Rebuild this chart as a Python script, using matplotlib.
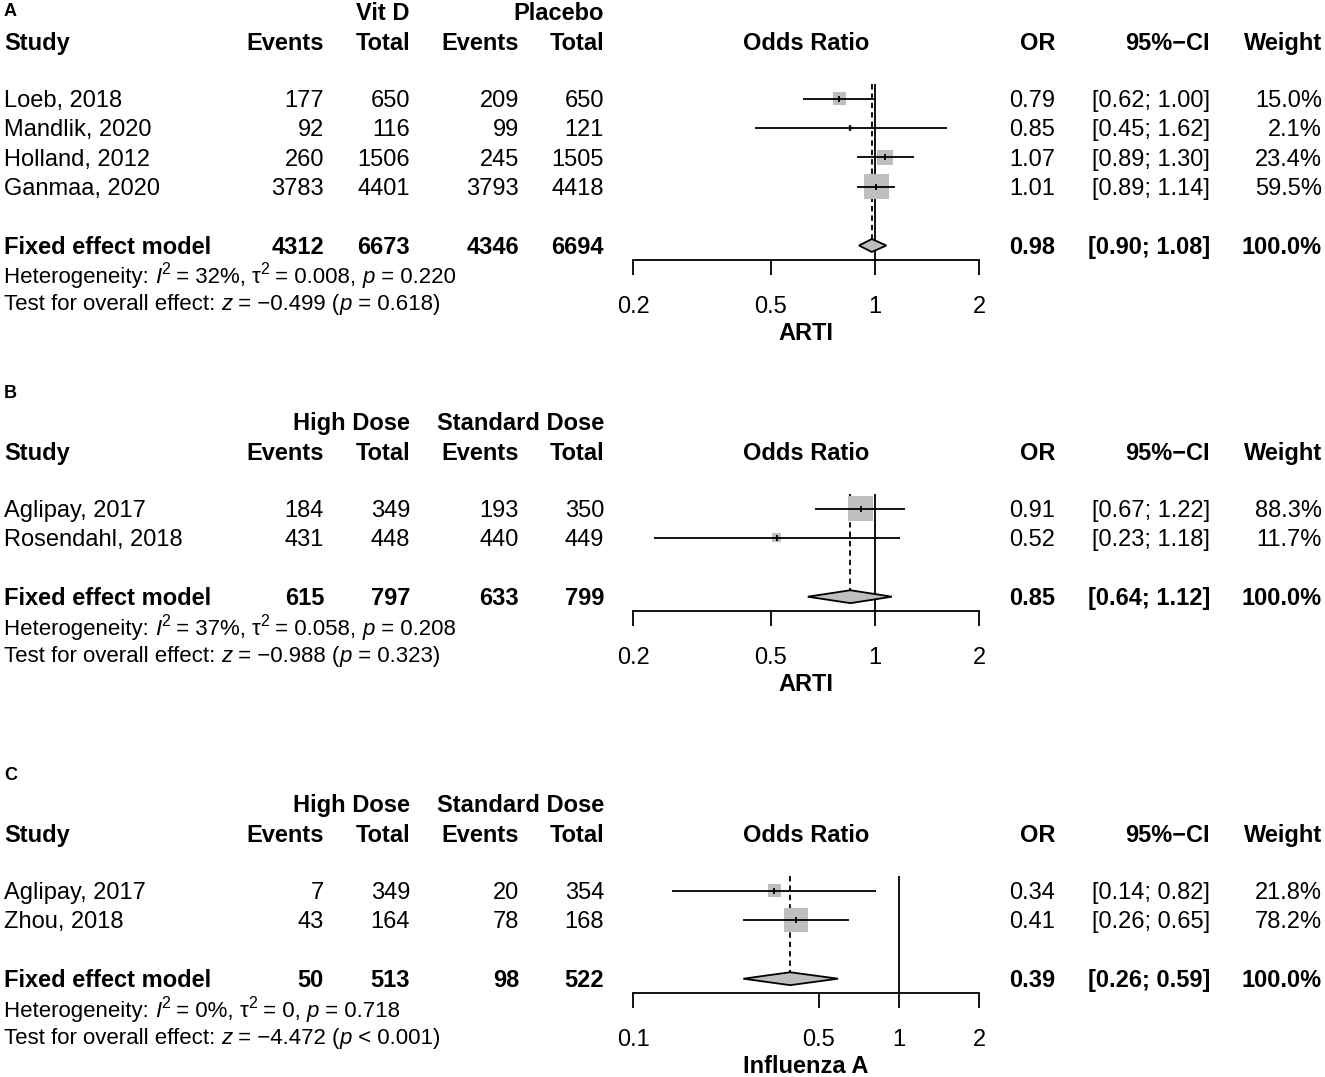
import matplotlib
matplotlib.use("Agg")
import numpy as np
import matplotlib.pyplot as plt
from matplotlib.patches import Polygon

plt.rcParams["font.family"] = ["Liberation Sans", "DejaVu Sans"]

# ---- panel A: Vit D vs Placebo, ARTI ----
a_study = ["Loeb, 2018", "Mandlik, 2020", "Holland, 2012", "Ganmaa, 2020"]
a_ev_t = [177, 92, 260, 3783]
a_tot_t = [650, 116, 1506, 4401]
a_ev_c = [209, 99, 245, 3793]
a_tot_c = [650, 121, 1505, 4418]
a_or = [0.79, 0.85, 1.07, 1.01]
a_lo = [0.62, 0.45, 0.89, 0.89]
a_hi = [1.00, 1.62, 1.30, 1.14]
a_w = [15.0, 2.1, 23.4, 59.5]
a_fixed = [4312, 6673, 4346, 6694]
a_pool = (0.98, 0.90, 1.08)
a_stats = ("32%", "0.008", "= 0.220", "−0.499", "= 0.618")

# ---- panel B: High vs Standard dose, ARTI ----
b_study = ["Aglipay, 2017", "Rosendahl, 2018"]
b_ev_t = [184, 431]
b_tot_t = [349, 448]
b_ev_c = [193, 440]
b_tot_c = [350, 449]
b_or = [0.91, 0.52]
b_lo = [0.67, 0.23]
b_hi = [1.22, 1.18]
b_w = [88.3, 11.7]
b_fixed = [615, 797, 633, 799]
b_pool = (0.85, 0.64, 1.12)
b_stats = ("37%", "0.058", "= 0.208", "−0.988", "= 0.323")

# ---- panel C: High vs Standard dose, Influenza A ----
c_study = ["Aglipay, 2017", "Zhou, 2018"]
c_ev_t = [7, 43]
c_tot_t = [349, 164]
c_ev_c = [20, 78]
c_tot_c = [354, 168]
c_or = [0.34, 0.41]
c_lo = [0.14, 0.26]
c_hi = [0.82, 0.65]
c_w = [21.8, 78.2]
c_fixed = [50, 513, 98, 522]
c_pool = (0.39, 0.26, 0.59)
c_stats = ("0%", "0", "= 0.718", "−4.472", "< 0.001")

W, H = 1325, 1077
FS = 17
FS_HET = 16
ROW = 29.4
GREY = "#BEBEBE"

fig = plt.figure(figsize=(W / 100, H / 100), dpi=100, facecolor="white")
renderer = fig.canvas.get_renderer()


def base_y(y, size):
    # y is the visual centre of capitals, in pixels from the top
    return 1 - (y + 0.5 * size / 0.72 * 0.716) / H


def txt(x, y, s, ha="left", bold=False, size=FS):
    fig.text(x / W, base_y(y, size), s, ha=ha, va="baseline",
             fontsize=size, fontweight="bold" if bold else "normal")


def advance(s, size, style):
    t = fig.text(0, 0, s + "|", fontsize=size, style=style)
    w1 = t.get_window_extent(renderer).width
    t.set_text("|")
    w2 = t.get_window_extent(renderer).width
    t.remove()
    return w1 - w2


def rich(x, y, parts, size=FS_HET):
    cur = x
    for s, kind in parts:
        fs = size * 0.72 if kind == "sup" else size
        style = "italic" if kind == "i" else "normal"
        dy = 9 / H if kind == "sup" else 0
        fig.text(cur / W, base_y(y, size) + dy, s, va="baseline", fontsize=fs, style=style)
        cur += advance(s, fs, style)


def panel(label, y_lab, y_grp, grp_t, grp_c, study, ev_t, tot_t, ev_c, tot_c,
          est, lo, hi, w, fixed, pool, stats, xlim, xticks, xlabel):
    y_head = y_grp + 29.5
    y0 = y_head + 57
    n = len(study)
    fixed_row = n + 1

    txt(4, y_lab, label, bold=True, size=13)
    txt(410, y_grp, grp_t, ha="right", bold=True)
    txt(604, y_grp, grp_c, ha="right", bold=True)
    for x, s, ha in [(4, "Study", "left"), (324, "Events", "right"), (410, "Total", "right"),
                     (519, "Events", "right"), (604, "Total", "right"),
                     (806, "Odds Ratio", "center"), (1055, "OR", "right"),
                     (1210, "95%−CI", "right"), (1322, "Weight", "right")]:
        txt(x, y_head, s, ha=ha, bold=True)

    for i in range(n):
        y = y0 + i * ROW
        txt(4, y, study[i])
        txt(324, y, str(ev_t[i]), ha="right")
        txt(410, y, str(tot_t[i]), ha="right")
        txt(519, y, str(ev_c[i]), ha="right")
        txt(604, y, str(tot_c[i]), ha="right")
        txt(1055, y, f"{est[i]:.2f}", ha="right")
        txt(1210, y, f"[{lo[i]:.2f}; {hi[i]:.2f}]", ha="right")
        txt(1322, y, f"{w[i]:.1f}%", ha="right")

    yf = y0 + fixed_row * ROW
    txt(4, yf, "Fixed effect model", bold=True)
    for x, v in zip([324, 410, 519, 604], fixed):
        txt(x, yf, str(v), ha="right", bold=True)
    txt(1055, yf, f"{pool[0]:.2f}", ha="right", bold=True)
    txt(1210, yf, f"[{pool[1]:.2f}; {pool[2]:.2f}]", ha="right", bold=True)
    txt(1322, yf, "100.0%", ha="right", bold=True)

    i2, tau2, phet, z, pz = stats
    rich(4, yf + 30, [("Heterogeneity: ", "n"), ("I", "i"), ("2", "sup"),
                      (f" = {i2}, ", "n"), ("τ", "n"), ("2", "sup"),
                      (f" = {tau2}, ", "n"), ("p", "i"), (f" {phet}", "n")])
    rich(4, yf + 57, [("Test for overall effect: ", "n"), ("z", "i"),
                      (f" = {z} (", "n"), ("p", "i"), (f" {pz})", "n")])
    txt(806, yf + 86, xlabel, ha="center", bold=True)

    # forest axes
    ax_top = y0 - 0.5 * ROW
    ax_bot = y0 + (fixed_row + 0.5) * ROW
    ax = fig.add_axes((633 / W, 1 - ax_bot / H, (979 - 633) / W, (ax_bot - ax_top) / H))
    ax.set_xscale("log")
    ax.set_xlim(*xlim)
    ax.set_ylim(fixed_row + 0.5, -0.5)
    ax.patch.set_alpha(0)
    for s in ["top", "left", "right"]:
        ax.spines[s].set_visible(False)
    ax.spines["bottom"].set_linewidth(1.3)
    ax.set_yticks([])
    ax.set_xticks(xticks)
    ax.set_xticklabels([f"{t:g}" for t in xticks])
    ax.minorticks_off()
    ax.tick_params(axis="x", length=10.6, width=1.3, pad=15, labelsize=FS, direction="out")

    rows = np.arange(n)
    side = 24.5 * np.sqrt(np.array(w) / max(w)) * 0.72
    ax.scatter(est, rows, s=side ** 2, marker="s", color=GREY, edgecolors="none", zorder=2)
    ax.hlines(rows, lo, hi, color="black", lw=1.3, zorder=3)
    ax.plot(est, rows, ls="none", marker="|", ms=5, mew=1.3, color="black", zorder=4)

    dh = 0.22
    ax.axvline(1, color="black", lw=1.3, zorder=1)
    ax.vlines(pool[0], -0.5, fixed_row - dh, color="black", lw=1.3, linestyles=(0, (3, 2.2)), zorder=1)
    dia = Polygon([(pool[1], fixed_row), (pool[0], fixed_row - dh),
                   (pool[2], fixed_row), (pool[0], fixed_row + dh)],
                  closed=True, facecolor=GREY, edgecolor="black", lw=1.3, zorder=5)
    ax.add_patch(dia)


panel("A", 10, 12, "Vit D", "Placebo", a_study, a_ev_t, a_tot_t, a_ev_c, a_tot_c,
      a_or, a_lo, a_hi, a_w, a_fixed, a_pool, a_stats, (0.2, 2), [0.2, 0.5, 1, 2], "ARTI")
panel("B", 392, 422, "High Dose", "Standard Dose", b_study, b_ev_t, b_tot_t, b_ev_c, b_tot_c,
      b_or, b_lo, b_hi, b_w, b_fixed, b_pool, b_stats, (0.2, 2), [0.2, 0.5, 1, 2], "ARTI")
panel("C", 774, 804, "High Dose", "Standard Dose", c_study, c_ev_t, c_tot_t, c_ev_c, c_tot_c,
      c_or, c_lo, c_hi, c_w, c_fixed, c_pool, c_stats, (0.1, 2), [0.1, 0.5, 1, 2], "Influenza A")

fig.savefig("out.png", dpi=100, facecolor="white")
